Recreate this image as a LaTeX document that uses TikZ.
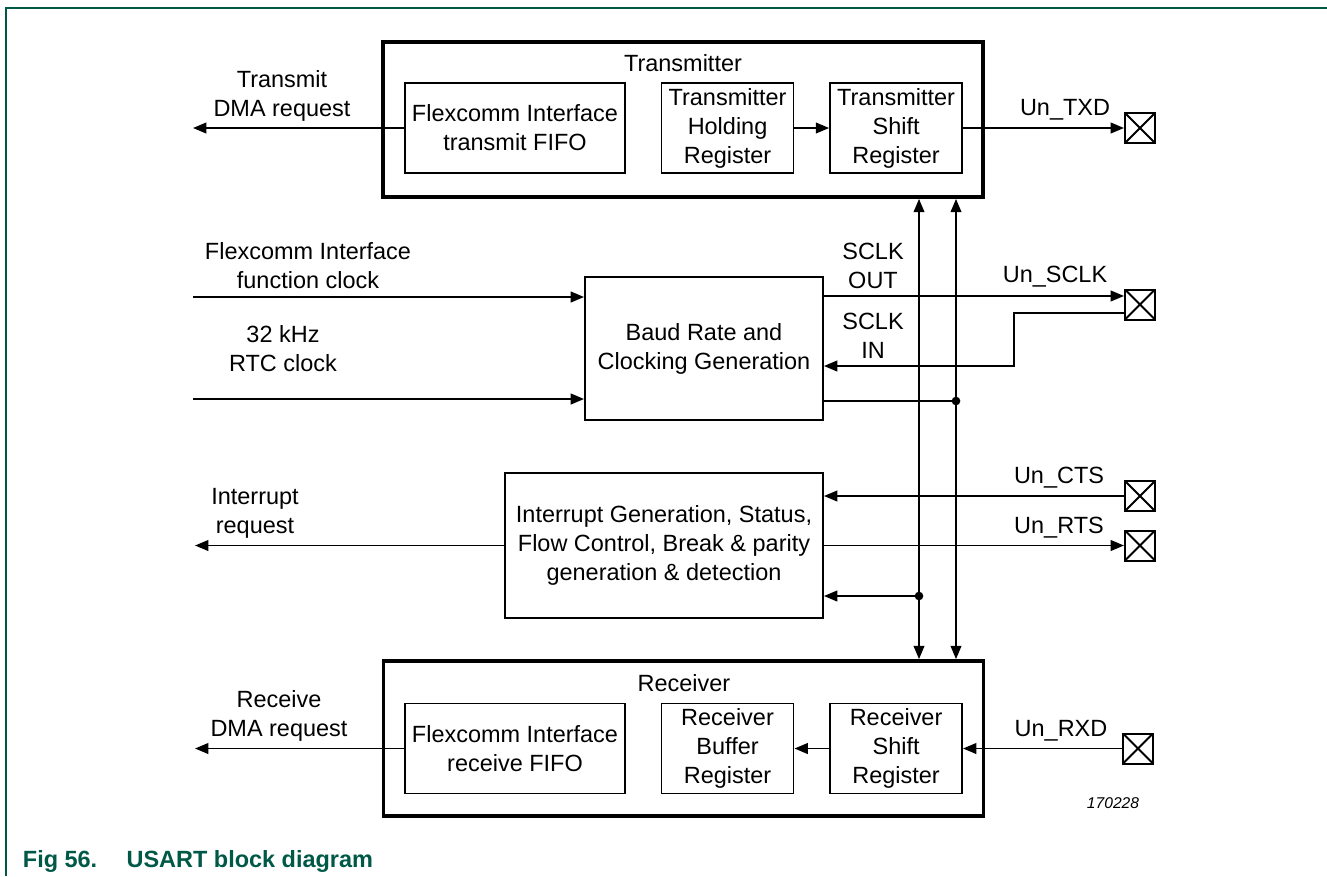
\documentclass[tikz,border=0pt]{standalone}
\usepackage{fontspec}
\setmainfont{Liberation Sans}
\usetikzlibrary{arrows.meta,positioning}
\definecolor{nxpgreen}{RGB}{0,88,70}

\begin{document}
\begin{tikzpicture}[
  x=0.75pt, y=-0.75pt,
  >={Triangle[length=10pt,width=8pt]}, node distance=26pt,
  font=\fontsize{17.6}{21.75}\selectfont, line width=1.4pt,
  t/.style={draw, line width=1.4pt, align=center, minimum height=67.5pt, inner sep=2pt},
  blk/.style={draw, line width=2.8pt, minimum width=450pt, minimum height=116.25pt},
  pad/.style={draw, line width=1.5pt, minimum size=22.5pt, inner sep=0pt,
    path picture={\draw[line width=1.4pt]
      (path picture bounding box.north west) -- (path picture bounding box.south east)
      (path picture bounding box.south west) -- (path picture bounding box.north east);}},
  lbl/.style={align=center, inner sep=0pt},
  jdot/.style={circle, fill, inner sep=0pt, minimum size=6.5pt}]
\useasboundingbox (0,0) rectangle (1327,876);
\draw[nxpgreen, line width=1.5pt] (6,876) -- (6,8) -- (1327,8);

% transmitter
\node[blk](txo) at (683,119.5) {};
\node[lbl](txt) at (683,63) {Transmitter};
\node[t, minimum width=165pt](txfifo) at (515,128) {Flexcomm Interface\\transmit FIFO};
\node[t, minimum width=99pt, right=of txfifo](txhold) {Transmitter\\Holding\\Register};
\node[t, minimum width=99pt, right=of txhold](txshift) {Transmitter\\Shift\\Register};

% clocking and interrupt blocks
\node[t, minimum width=178.5pt, minimum height=107.25pt](baud) at (704,348.5) {Baud Rate and\\Clocking Generation};
\node[t, minimum width=238.5pt, minimum height=108.75pt](intg) at (664,545.5)
  {Interrupt Generation, Status,\\Flow Control, Break \& parity\\generation \& detection};

% receiver
\node[blk](rxo) at (683.5,738.5) {};
\node[lbl](rxt) at (684,683) {Receiver};
\node[t, minimum width=165pt](rxfifo) at (515,748.5) {Flexcomm Interface\\receive FIFO};
\node[t, minimum width=99pt, right=of rxfifo](rxbuf) {Receiver\\Buffer\\Register};
\node[t, minimum width=99pt, right=of rxbuf](rxshift) {Receiver\\Shift\\Register};

% pins
\node[pad](ptxd) at (1140,128) {};
\node[pad](psclk) at (1140,304.5) {};
\node[pad](pcts) at (1140,496) {};
\node[pad](prts) at (1140,545.5) {};
\node[pad](prxd) at (1138,748.5) {};

\coordinate (txdma) at (193,128);
\coordinate (fclk) at (193,297);
\coordinate (rtc) at (193,399);
\coordinate (irq) at (195,545.5);
\coordinate (rxdma) at (195,748.5);
\coordinate (busa) at (919,0);
\coordinate (busb) at (956,0);
\coordinate (sclko) at ([yshift=6.4pt]psclk.west);
\coordinate (sclki) at ([yshift=-6.4pt]psclk.west);
\coordinate (sclkin) at (1014,366);
\coordinate (bd) at (956,401);
\coordinate (id) at (919,596);

\draw[->](txfifo)--(txdma);
\draw[->](txhold)--(txshift);
\draw[->](txshift)--(ptxd);
\draw[<->](busa |- txo.south)--(busa |- rxo.north);
\draw[<->](busb |- txo.south)--(busb |- rxo.north);
\draw[->](fclk)--(baud.west |- fclk);
\draw[->](rtc)--(baud.west |- rtc);
\draw[->](baud.east |- sclko)--(sclko);
\draw[->](sclki) -| (sclkin) -- (baud.east |- sclkin);
\draw(baud.east |- bd)--(bd);
\node[jdot](d1) at (bd) {};
\draw[->](pcts)--(intg.east |- pcts);
\draw[->](intg.east |- prts)--(prts);
\draw[->](id)--(intg.east |- id);
\node[jdot](d2) at (id) {};
\draw[->](intg)--(irq);
\draw[->](prxd)--(rxshift);
\draw[->](rxshift)--(rxbuf);
\draw[->](rxfifo)--(rxdma);

% labels
\node[lbl](ltxdma) at (282,96) {Transmit\\DMA request};
\node[lbl](ltxd) at (1065,110) {Un\_TXD};
\node[lbl](lfclk) at (308,266) {Flexcomm Interface\\function clock};
\node[lbl](lrtc) at (283,349) {32 kHz\\RTC clock};
\node[lbl](lsco) at (873,266) {SCLK\\OUT};
\node[lbl](lsci) at (873,336) {SCLK\\IN};
\node[lbl](lsclk) at (1055,277) {Un\_SCLK};
\node[lbl](lirq) at (255,513) {Interrupt\\request};
\node[lbl](lcts) at (1059,478) {Un\_CTS};
\node[lbl](lrts) at (1059,528) {Un\_RTS};
\node[lbl](lrxdma) at (279,716) {Receive\\DMA request};
\node[lbl](lrxd) at (1061,731) {Un\_RXD};
\node[lbl, font=\fontsize{11.7}{14}\selectfont\itshape](fid) at (1113,803) {170228};
\node[anchor=west, inner sep=0pt, text=nxpgreen, font=\fontsize{17.6}{21}\selectfont\bfseries](cap)
  at (22,861) {Fig 56.\hspace{22pt}USART block diagram};
\end{tikzpicture}
\end{document}
